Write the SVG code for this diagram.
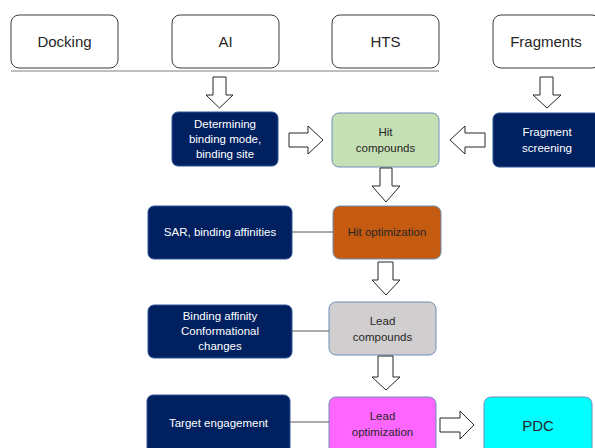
<svg xmlns="http://www.w3.org/2000/svg" width="595" height="448" viewBox="0 0 595 448">
<style>
.top{fill:#fff;stroke:#3a3a3a;stroke-width:1}
.dark{fill:#002060;stroke:#2f5597;stroke-width:1}
.t{font-family:"Liberation Sans",Arial,sans-serif;text-anchor:middle}
.tl{font-size:15px;fill:#262626}
.tw{font-size:11.5px;fill:#fff}
.tb{font-size:11.5px;fill:#262626}
.arr{fill:#fff;stroke:#262626;stroke-width:1}
.ln{stroke:#595959;stroke-width:1}
</style>
<rect width="595" height="448" fill="#fff"/>
<g id="docking"><rect class="top" x="11" y="15" width="107" height="53" rx="8"/><text class="t tl" x="64.5" y="47">Docking</text></g>
<g id="ai"><rect class="top" x="172" y="15" width="107" height="53" rx="8"/><text class="t tl" x="225.5" y="47">AI</text></g>
<g id="hts"><rect class="top" x="332" y="15" width="107" height="53" rx="8"/><text class="t tl" x="385.5" y="47">HTS</text></g>
<g id="fragments"><rect class="top" x="493" y="15" width="107" height="53" rx="8"/><text class="t tl" x="546" y="47">Fragments</text></g>
<g id="determining"><rect class="dark" x="172" y="112" width="106" height="54" rx="6"/><text class="t tw" x="225" y="128">Determining</text><text class="t tw" x="225" y="143">binding mode,</text><text class="t tw" x="225" y="158">binding site</text></g>
<g id="hit-compounds"><rect x="332" y="113" width="107" height="54" rx="7" fill="#c5e0b4" stroke="#6d8fb5"/><text class="t tb" x="385.5" y="136">Hit</text><text class="t tb" x="385.5" y="152">compounds</text></g>
<g id="fragment-screening"><rect class="dark" x="493" y="113" width="108" height="54" rx="6"/><text class="t tw" x="547" y="136">Fragment</text><text class="t tw" x="547" y="152">screening</text></g>
<g id="sar"><rect class="dark" x="148" y="206" width="144" height="53" rx="6"/><text class="t tw" x="220" y="236">SAR, binding affinities</text></g>
<g id="hit-optimization"><rect x="333" y="206" width="108" height="53" rx="7" fill="#c55a11" stroke="#6d8fb5"/><text class="t tb" x="387" y="236">Hit optimization</text></g>
<g id="binding-affinity"><rect class="dark" x="148" y="305" width="144" height="53" rx="6"/><text class="t tw" x="220" y="320">Binding affinity</text><text class="t tw" x="220" y="335">Conformational</text><text class="t tw" x="220" y="350">changes</text></g>
<g id="lead-compounds"><rect x="329" y="302" width="107" height="53" rx="7" fill="#d0cece" stroke="#6d8fb5"/><text class="t tb" x="382.5" y="325">Lead</text><text class="t tb" x="382.5" y="341">compounds</text></g>
<g id="target-engagement"><rect class="dark" x="147" y="395" width="143" height="60" rx="6"/><text class="t tw" x="218.5" y="427">Target engagement</text></g>
<g id="lead-optimization"><rect x="329" y="397" width="107" height="58" rx="7" fill="#ff66ff" stroke="#6d8fb5"/><text class="t tb" x="382.5" y="420">Lead</text><text class="t tb" x="382.5" y="436">optimization</text></g>
<g id="pdc"><rect x="484" y="397" width="108" height="58" rx="7" fill="#00ffff" stroke="#6d8fb5"/><text class="t" x="538" y="431" font-size="15px" fill="#262626">PDC</text></g>
<g id="connectors">
<line x1="11" y1="71" x2="439" y2="71" stroke="#7f7f7f" stroke-width="1"/>
<polygon class="arr" points="213,77 226,77 226,95 233,95 219.5,108 206,95 213,95"/>
<polygon class="arr" points="540,77 553,77 553,95 561,95 547,108 533,95 540,95"/>
<polygon class="arr" points="289,133 308,133 308,126 323,140 308,154 308,147 289,147"/>
<polygon class="arr" points="485,133 465,133 465,126 450,140 465,154 465,147 485,147"/>
<polygon class="arr" points="380,168 392,168 392,186 400,186 386,202 372,186 380,186"/>
<polygon class="arr" points="378,262 393,262 393,280 400,280 386,295 372,280 378,280"/>
<polygon class="arr" points="378,356 393,356 393,377 400,377 386,390 372,377 378,377"/>
<polygon class="arr" points="440,418 460,418 460,411 474,425 460,439 460,432 440,432"/>
<line class="ln" x1="292" y1="232" x2="333" y2="232"/>
<line class="ln" x1="292" y1="331" x2="329" y2="331"/>
<line class="ln" x1="290" y1="422" x2="329" y2="422"/>
</g>
</svg>
